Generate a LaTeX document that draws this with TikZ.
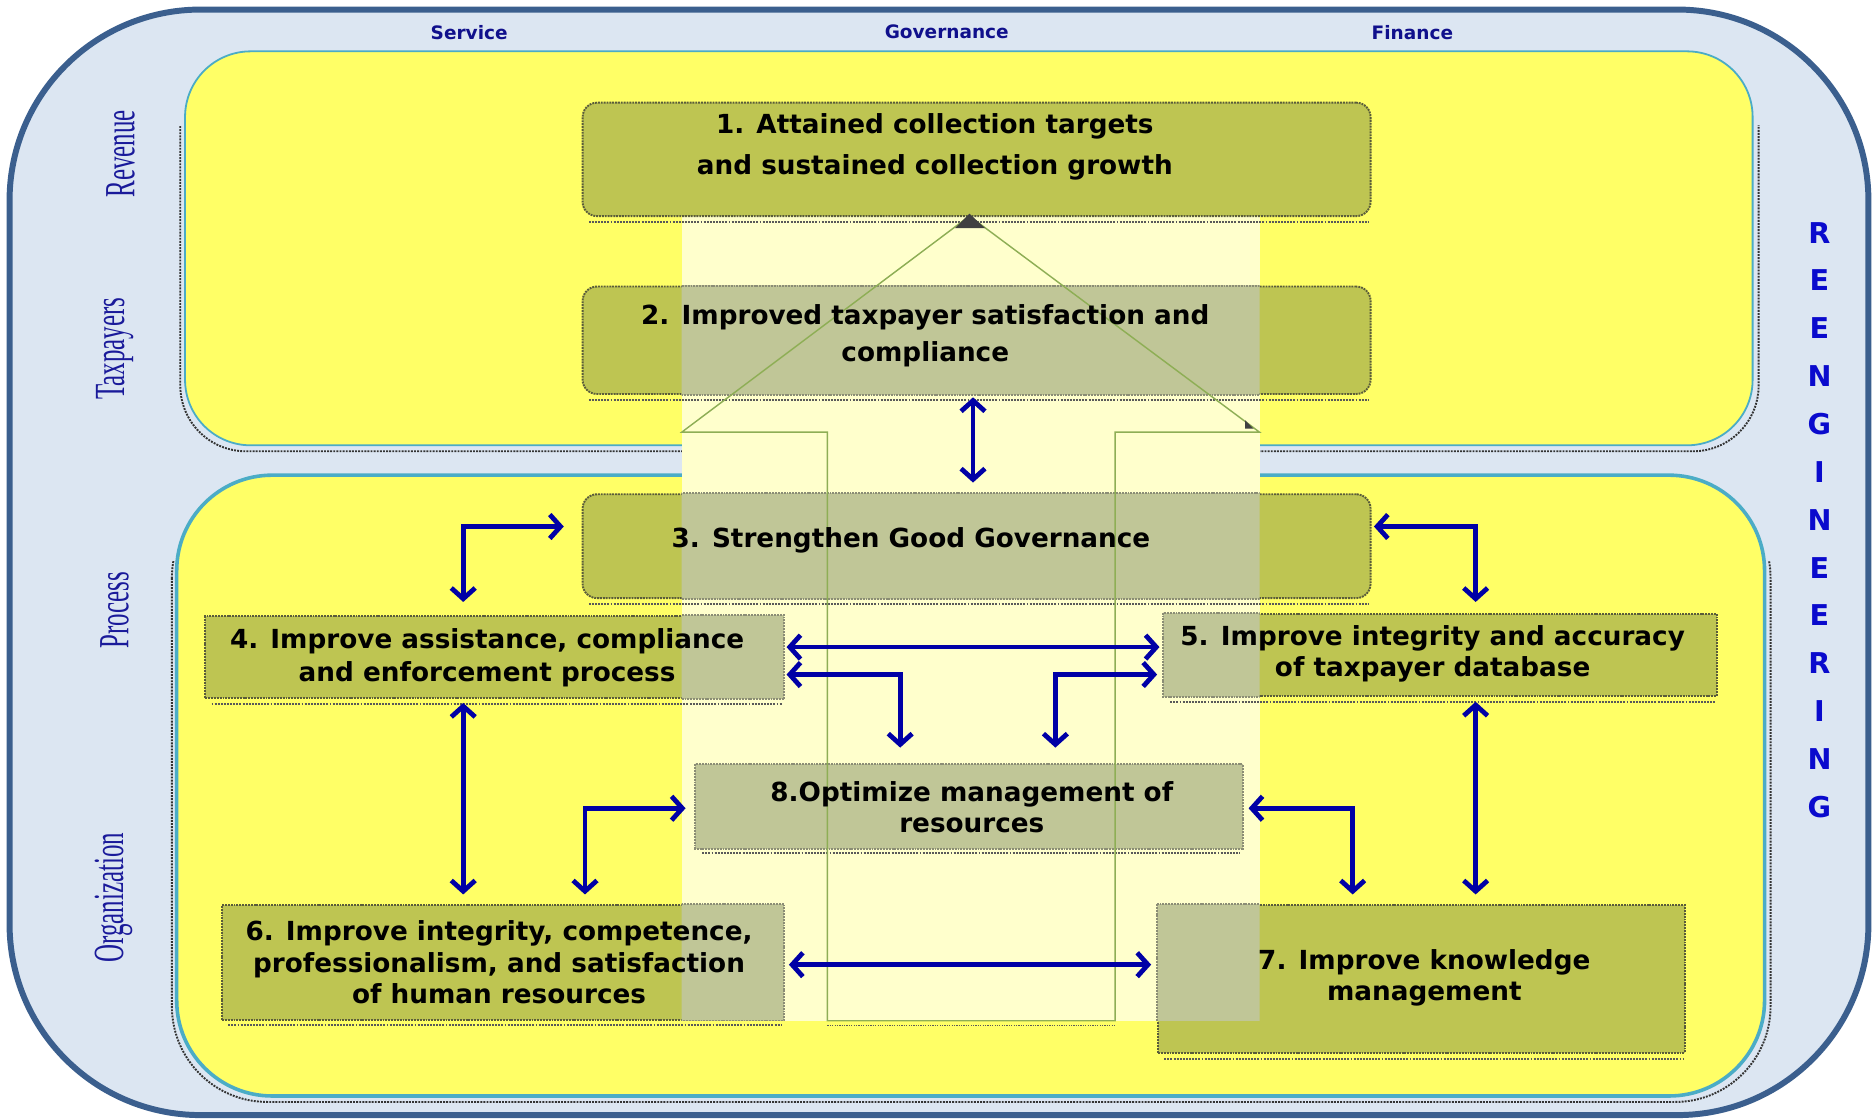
\documentclass[tikz,border=0pt]{standalone}
\usepackage{fontspec}
\usepackage{graphicx}
\setmainfont{DejaVu Sans}
\newfontfamily\serifcond{Liberation Serif}
\usetikzlibrary{arrows.meta}
\definecolor{outerfill}{HTML}{DCE6F2}
\definecolor{outerline}{HTML}{3B5F8E}
\definecolor{panelfill}{HTML}{FFFF66}
\definecolor{panelline}{HTML}{4BACC6}
\definecolor{palefill}{HTML}{FFFFCC}
\definecolor{olivefill}{HTML}{BEC552}
\definecolor{greyolive}{HTML}{C0C697}
\definecolor{boxline}{HTML}{5A5C3A}
\definecolor{outlinegreen}{HTML}{8EAE55}
\definecolor{headnavy}{HTML}{10108C}
\definecolor{labnavy}{HTML}{1A1A9A}
\definecolor{reengblue}{HTML}{0A0ACD}
\definecolor{arrowblue}{HTML}{0000A6}
\tikzset{
  outerstyle/.style={fill=outerfill, draw=outerline, line width=5pt, rounded corners=160pt},
  panelstyle/.style={fill=panelfill, draw=panelline},
  panelshadow/.style={draw=black!80, densely dotted, line width=1.6pt},
  rbox/.style={draw=boxline, line width=1.6pt, dash pattern=on 1.6pt off 0.8pt, fill=olivefill, rounded corners=12pt, inner sep=0pt},
  sbox/.style={draw=boxline, line width=1.6pt, dash pattern=on 1.6pt off 0.8pt, fill=olivefill, inner sep=0pt},
  greyfill/.style={draw=boxline!70!white, line width=1.6pt, dash pattern=on 1.6pt off 0.8pt, fill=greyolive},
  boxshadow/.style={draw=black!65, densely dotted, line width=1.6pt},
  outlinestyle/.style={draw=outlinegreen, line width=1.2pt},
  boxtext/.style={font=\bfseries\fontsize{22}{26}\selectfont, align=center, text=black, inner sep=0pt},
  headtext/.style={font=\bfseries\fontsize{15.5}{18}\selectfont, text=headnavy, inner sep=0pt},
  vlab/.style={rotate=90, font=\serifcond\fontsize{36}{40}\selectfont, text=labnavy, inner sep=0pt},
  reeng/.style={font=\bfseries\fontsize{24}{40.08}\selectfont, text=reengblue, align=center, inner sep=0pt},
  biarrow/.style={draw=arrowblue, line width=4pt,
    {Straight Barb[length=9pt,width=20pt]}-{Straight Barb[length=9pt,width=20pt]}}
}
\begin{document}
\begin{tikzpicture}[x=1pt, y=-1pt]
\useasboundingbox (0,0) rectangle (1568,937);
% outer frame
\path[outerstyle] (8,8) rectangle (1565,934);
% panel shadows (left, bottom and right sides only)
\begin{scope}
  \clip (0,105) rectangle (1568,400);
  \path[panelshadow, rounded corners=55pt] (151,48) rectangle (1473,378);
\end{scope}
\begin{scope}
  \clip (0,470) rectangle (1568,937);
  \path[panelshadow, rounded corners=80pt] (144,404) rectangle (1483,923);
\end{scope}
% panels
\path[panelstyle, line width=1.5pt, rounded corners=55pt] (155,43) rectangle (1468,373);
\path[panelstyle, line width=3pt, rounded corners=80pt] (148,398) rectangle (1478,918);
% pale overlay
\fill[palefill] (571,181) rectangle (1055,855);
% boxes
\node[rbox, minimum width=660pt, minimum height=95pt] (b1) at (818,133.5) {};
\node[rbox, minimum width=660pt, minimum height=90pt] (b2) at (818,285) {};
\node[rbox, minimum width=660pt, minimum height=87pt] (b3) at (818,457.5) {};
\node[sbox, minimum width=484pt, minimum height=69pt] (b4) at (414,550.5) {};
\node[sbox, minimum width=463pt, minimum height=69pt] (b5) at (1206.5,548.5) {};
\node[sbox, minimum width=457pt, minimum height=69pt] (b8) at (811.5,675.5) {};
\node[sbox, minimum width=470pt, minimum height=96pt] (b6) at (421,806) {};
\node[sbox, minimum width=441pt, minimum height=124pt] (b7) at (1190.5,820) {};
% parts of boxes under the pale overlay
\begin{scope}
  \clip (571,181) rectangle (1055,855);
  \foreach \b in {b2,b3,b4,b5,b8,b6,b7}
    \path[greyfill] (\b.north west) rectangle (\b.south east);
\end{scope}
% dotted box shadows
\foreach \b in {b1,b2,b3,b4,b5,b8,b6,b7}
  \path[boxshadow] ([xshift=6pt,yshift=-4pt]\b.south west) -- ([xshift=-2pt,yshift=-4pt]\b.south east);
% up-arrow outline
\path[outlinestyle] (812,181) -- (1055,362) -- (934,362) -- (934,855) -- (693,855) -- (693,362) -- (571,362) -- cycle;
\fill[black!75] (800,191) -- (812,179) -- (825,191) -- cycle;
\fill[black!75] (1043,352) -- (1043,359) -- (1050,359) -- cycle;
\path[boxshadow, line width=1pt] (693,859) -- (934,859);
% headers
\node[headtext] (hs) at (393,27) {Service};
\node[headtext] (hg) at (793,27) {Governance};
\node[headtext] (hf) at (1183,27) {Finance};
% side labels
\node[vlab] (lrev) at (101,129) {\scalebox{0.58}[1]{Revenue}};
\node[vlab] (ltax) at (96,292) {\scalebox{0.58}[1]{Taxpayers}};
\node[vlab] (lpro) at (96,511) {\scalebox{0.58}[1]{Process}};
\node[vlab] (lorg) at (95,752) {\scalebox{0.58}[1]{Organization}};
\node[reeng] (re) at (1524,435.5) {R\\E\\E\\N\\G\\I\\N\\E\\E\\R\\I\\N\\G};
% box texts
\node[boxtext, font=\bfseries\fontsize{22}{34}\selectfont] (t1) at (783,123) {1. Attained collection targets\\and sustained collection growth};
\node[boxtext, font=\bfseries\fontsize{22}{31}\selectfont] (t2) at (775,281) {2. Improved taxpayer satisfaction and\\compliance};
\node[boxtext] (t3) at (763,453) {3. Strengthen Good Governance};
\node[boxtext, font=\bfseries\fontsize{22}{27}\selectfont] (t4) at (408,551) {4. Improve assistance, compliance\\and enforcement process};
\node[boxtext] (t5) at (1200,548) {5. Improve integrity and accuracy\\of taxpayer database};
\node[boxtext] (t8) at (814,676) {8.Optimize management of\\resources};
\node[boxtext, font=\bfseries\fontsize{22}{26.5}\selectfont] (t6) at (418,806) {6. Improve integrity, competence,\\professionalism, and satisfaction\\of human resources};
\node[boxtext] (t7) at (1193,819) {7. Improve knowledge\\management};
% connectors
\draw[biarrow, shorten <=2pt, shorten >=9pt] (b2.south -| 815,0) -- (b3.north -| 815,0);
\draw[biarrow, shorten <=11pt, shorten >=15pt] (b4.north -| 388,0) |- (b3.west |- 0,441);
\draw[biarrow, shorten <=2pt, shorten >=9pt] (b3.east |- 0,441) -| (b5.north -| 1236,0);
\draw[biarrow, shorten <=2pt, shorten >=3pt] (b4.east |- 0,542) -- (b5.west |- 0,542);
\draw[biarrow, shorten <=2pt, shorten >=14pt] (b4.east |- 0,565) -| (b8.north -| 754,0);
\draw[biarrow, shorten <=14pt, shorten >=5pt] (b8.north -| 884,0) |- (b5.west |- 0,565);
\draw[biarrow, shorten <=3pt, shorten >=8pt] (b4.south -| 388,0) -- (b6.north -| 388,0);
\draw[biarrow, shorten <=8pt, shorten >=8pt] (b6.north -| 490,0) |- (b8.west |- 0,677);
\draw[biarrow, shorten <=5pt, shorten >=8pt] (b8.east |- 0,677) -| (b7.north -| 1133,0);
\draw[biarrow, shorten <=4pt, shorten >=8pt] (b5.south -| 1236,0) -- (b7.north -| 1236,0);
\draw[biarrow, shorten <=4pt, shorten >=5pt] (b6.east |- 0,808) -- (b7.west |- 0,808);
\end{tikzpicture}
\end{document}
